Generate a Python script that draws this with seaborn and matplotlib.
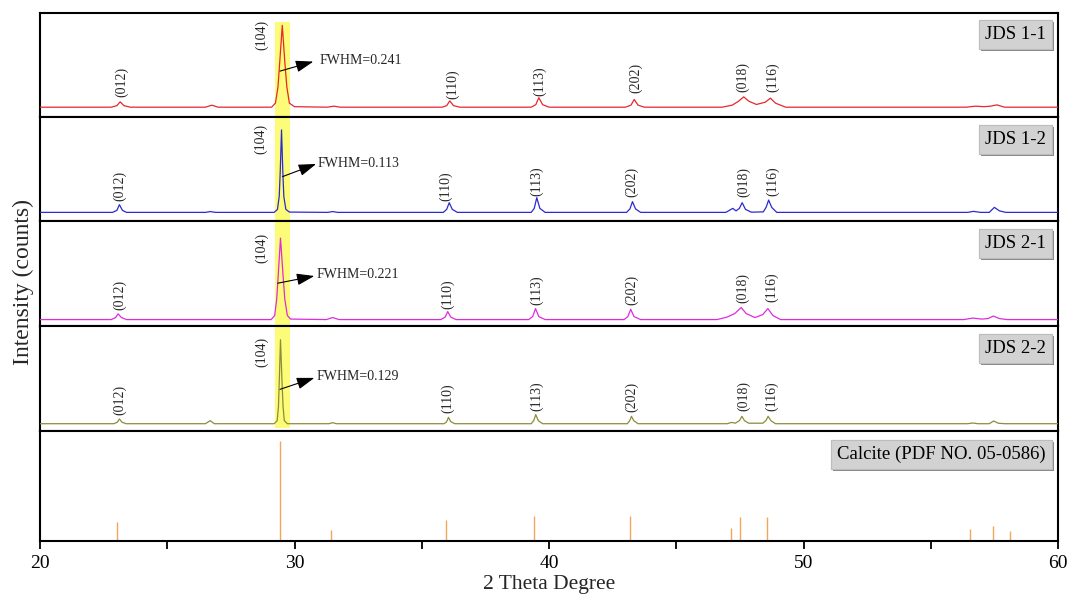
import numpy as np
import pandas as pd
import matplotlib
matplotlib.use("Agg")
import matplotlib.pyplot as plt
import matplotlib.patheffects as pe
import seaborn as sns

# ---------------- data ----------------
jds11_2theta = [20.0, 22.8, 23.02, 23.15, 23.3, 23.55, 26.5, 26.75, 27.0,
                29.1, 29.25, 29.35, 29.42, 29.52, 29.62, 29.7, 29.8, 30.0,
                31.3, 31.55, 31.8, 35.8, 35.98, 36.1, 36.25, 36.5,
                39.3, 39.48, 39.6, 39.75, 40.0, 43.0, 43.22, 43.35, 43.5, 43.75,
                46.8, 47.2, 47.45, 47.65, 47.85, 48.15, 48.5, 48.7, 48.9, 49.3,
                56.4, 56.75, 57.1, 57.35, 57.6, 57.9, 60.0]
jds11_int = [10, 10, 11.5, 15.3, 11.5, 10, 10, 12, 10,
             10, 14, 30, 55, 91.7, 55, 30, 14, 10.5,
             10, 11, 10, 10, 11.5, 16.3, 11.5, 10,
             10, 12.5, 19.5, 12.5, 10, 10, 12, 17.7, 12, 10,
             10, 12, 16, 20.3, 16, 12.7, 15, 19, 14, 10,
             10, 11, 10.5, 11, 12.3, 10, 10]

jds12_2theta = [20.0, 22.85, 23.02, 23.12, 23.24, 23.4, 26.5, 26.69, 26.9,
                29.2, 29.33, 29.4, 29.44, 29.49, 29.54, 29.58, 29.66, 29.8,
                31.3, 31.5, 31.7, 35.85, 35.98, 36.08, 36.2, 36.4,
                39.3, 39.42, 39.52, 39.64, 39.85, 43.05, 43.18, 43.28, 43.4, 43.6,
                46.95, 47.22, 47.35, 47.48, 47.59, 47.72, 47.95, 48.42, 48.53, 48.63, 48.75, 48.95,
                56.45, 56.68, 56.95, 57.3, 57.5, 57.7, 57.95, 60.0]
jds12_int = [9, 9, 11, 16.7, 11, 9, 9, 9.8, 9,
             9, 12, 25, 50, 91.3, 50, 25, 12, 9.3,
             9, 9.8, 9, 9, 12, 18.7, 12, 9,
             9, 13, 23.7, 13, 9, 9, 12.5, 19.7, 12.5, 9,
             9, 13, 10.5, 13, 18.7, 12, 9.2, 9.5, 14, 21.3, 14, 9,
             9, 10, 9, 9, 14, 10.5, 9, 9]

jds21_2theta = [20.0, 22.8, 22.97, 23.07, 23.2, 23.4,
                29.08, 29.22, 29.3, 29.36, 29.45, 29.55, 29.62, 29.72, 29.85,
                31.25, 31.5, 31.75, 35.75, 35.92, 36.02, 36.14, 36.35,
                39.2, 39.36, 39.47, 39.6, 39.85, 42.95, 43.1, 43.21, 43.34, 43.6,
                46.6, 47.0, 47.3, 47.55, 47.75, 48.09, 48.4, 48.6, 48.8, 49.1,
                56.3, 56.65, 57.0, 57.25, 57.46, 57.7, 58.0, 60.0]
jds21_int = [6, 6, 8, 11.7, 8, 6,
             6, 10, 26, 50, 87.3, 50, 26, 10, 6.5,
             6, 8, 6, 6, 8.5, 14, 8.5, 6,
             6, 9, 17, 9, 6, 6, 9, 16.3, 9, 6,
             6, 8.5, 12, 18, 12, 8, 11, 17, 10, 6,
             6, 7.5, 6.5, 7, 9.5, 7, 6, 6]

jds22_2theta = [20.0, 22.9, 23.04, 23.12, 23.22, 23.38, 26.5, 26.69, 26.85,
                29.2, 29.32, 29.37, 29.4, 29.45, 29.51, 29.55, 29.6, 29.72,
                31.35, 31.5, 31.65, 35.88, 35.98, 36.05, 36.14, 36.3,
                39.3, 39.4, 39.48, 39.58, 39.75, 43.08, 43.17, 43.24, 43.33, 43.5,
                47.0, 47.18, 47.32, 47.48, 47.58, 47.68, 47.85, 48.4, 48.52, 48.61, 48.72, 48.9,
                56.45, 56.65, 56.85, 57.3, 57.47, 57.65, 57.9, 60.0]
jds22_int = [7, 7, 8.5, 11.7, 8.5, 7, 7, 10, 7,
             7, 10, 24, 48, 90, 48, 24, 10, 7,
             7, 8, 7, 7, 9, 13.3, 9, 7,
             7, 10, 16, 10, 7, 7, 10, 14.3, 10, 7,
             7, 8.3, 7.5, 10, 14.3, 10, 7.5, 7.5, 10, 14.3, 10, 7,
             7, 7.7, 7, 7, 9.7, 7.5, 7, 7]

calcite_2theta = [23.03, 29.42, 31.43, 35.97, 39.41, 43.17, 47.14, 47.52, 48.56, 56.56, 57.45, 58.12]
calcite_int = [19, 100, 11, 21, 24.5, 24.5, 13, 24, 24, 12, 15.4, 10]

sample_names = ["JDS 1-1", "JDS 1-2", "JDS 2-1", "JDS 2-2"]
fwhm_values = ["0.241", "0.113", "0.221", "0.129"]
hkl_labels = ["(012)", "(104)", "(110)", "(113)", "(202)", "(018)", "(116)"]
calcite_label = "Calcite (PDF NO. 05-0586)"
x_ticks = [20, 30, 40, 50, 60]

# ---------------- layout / styles ----------------
colors = ["#e8262e", "#2a2ad2", "#e02ae0", "#8c8c3c"]
stick_color = "#f2a65a"
hl_color = "#fcfc78"

# hkl label positions per panel (x, bottom y)
hkl_pos = [
    [(23.2, 20), (28.7, 67), (36.2, 18.5), (39.64, 21), (43.42, 24), (47.62, 25), (48.8, 25)],
    [(23.12, 20.7), (28.66, 67.3), (35.93, 20.7), (39.52, 25.7), (43.26, 24.7), (47.64, 24), (48.77, 25.7)],
    [(23.11, 15.7), (28.7, 62.3), (36.02, 16.7), (39.5, 20.7), (43.26, 20.7), (47.6, 22.3), (48.73, 24)],
    [(23.14, 15.7), (28.7, 63.3), (36.02, 17.7), (39.5, 20), (43.26, 18.3), (47.64, 20), (48.75, 20)],
]
# FWHM arrows: tail, tip, text position
fwhm_pos = [
    ((29.43, 46), (30.74, 55.5), (30.98, 57)),
    ((29.53, 44.7), (30.85, 57.3), (30.91, 58)),
    ((29.34, 42.3), (30.78, 49.5), (30.86, 50.7)),
    ((29.43, 41), (30.78, 52.3), (30.85, 54)),
]
hl_span = [(0.0, 0.913), (0.0, 1.0), (0.0, 1.0), (0.03, 1.0)]
box_y = [0.795, 0.79, 0.79, 0.78]

sns.set_theme(style="white")
plt.rcParams["font.family"] = ["Liberation Serif", "DejaVu Serif"]

fig = plt.figure(figsize=(10.7, 5.94), dpi=100)
gs = fig.add_gridspec(5, 1, height_ratios=[104, 104, 104, 105, 110], hspace=0,
                      left=40 / 1070, right=1058 / 1070, top=1 - 13 / 594, bottom=1 - 541 / 594)
axes = [fig.add_subplot(gs[i]) for i in range(5)]

series = [(jds11_2theta, jds11_int), (jds12_2theta, jds12_int),
          (jds21_2theta, jds21_int), (jds22_2theta, jds22_int)]

box_kw = dict(boxstyle="square,pad=0.32", fc="#d2d2d2", ec="#bdbdbd", lw=0.8)


def panel_box(ax, text, y):
    t = ax.text(0.988, y, text, transform=ax.transAxes, ha="right", va="center",
                fontsize=13.5, color="black", bbox=box_kw, zorder=10)
    t.get_bbox_patch().set_path_effects([
        pe.withSimplePatchShadow(offset=(1.5, -1.5), shadow_rgbFace="#7a7a7a", alpha=0.9),
        pe.Normal()])
    return t


for i in range(4):
    ax = axes[i]
    x, y = series[i]
    df = pd.DataFrame({"two_theta": x, "intensity": y})
    ax.axvspan(29.22, 29.81, ymin=hl_span[i][0], ymax=hl_span[i][1], color=hl_color, lw=0, zorder=0)
    sns.lineplot(data=df, x="two_theta", y="intensity", ax=ax, color=colors[i],
                 lw=0.9, estimator=None, sort=False, zorder=3)
    ax.set_ylim(0, 104)
    for lab, (lx, ly) in zip(hkl_labels, hkl_pos[i]):
        ax.text(lx, ly, lab, rotation=90, ha="center", va="bottom", fontsize=10, zorder=5)
    tail, tip, tpos = fwhm_pos[i]
    ax.annotate("", xy=tip, xytext=tail,
                arrowprops=dict(arrowstyle="-|>,head_length=0.9,head_width=0.3", color="black",
                                lw=0.8, shrinkA=0, shrinkB=0), zorder=6)
    ax.text(tpos[0], tpos[1], "FWHM=" + fwhm_values[i], ha="left", va="center", fontsize=10)
    panel_box(ax, sample_names[i], box_y[i])

ax5 = axes[4]
ax5.vlines(calcite_2theta, 0, calcite_int, color=stick_color, lw=1.0)
ax5.set_ylim(0, 110)
panel_box(ax5, calcite_label, 0.784)

for ax in axes:
    ax.set_xlim(20, 60)
    ax.set_yticks([])
    ax.set_ylabel("")
    ax.set_xlabel("")
    for s in ax.spines.values():
        s.set_visible(True)
        s.set_color("black")
        s.set_linewidth(1.5)
    if ax is not ax5:
        ax.tick_params(axis="x", which="both", bottom=False, labelbottom=False)

ax5.set_xticks(x_ticks)
ax5.set_xticklabels([str(v) for v in x_ticks])
ax5.set_xticks([25, 35, 45, 55], minor=True)
ax5.tick_params(axis="x", which="both", direction="out", length=6, width=1.3,
                bottom=True, colors="black", labelsize=14, pad=4)
ax5.set_xlabel("2 Theta Degree", fontsize=15.5, labelpad=2)

fig.text(0.022, 0.525, "Intensity (counts)", rotation=90, ha="center", va="center", fontsize=17)

fig.savefig("out.png", dpi=100)
